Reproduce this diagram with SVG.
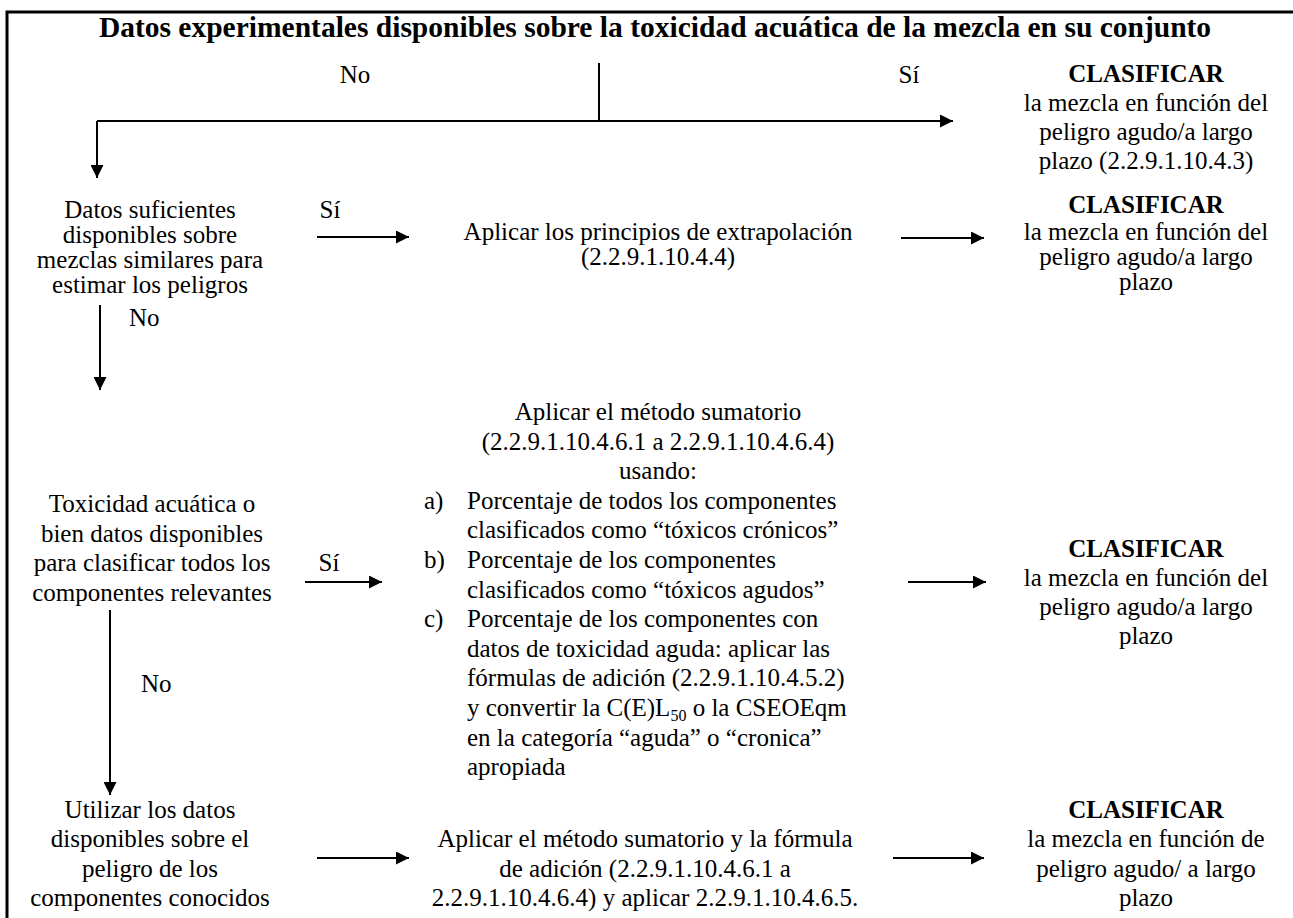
<svg xmlns="http://www.w3.org/2000/svg" width="1293" height="918" viewBox="0 0 1293 918">
<defs>
<style>
text{font-family:"Liberation Serif","Times New Roman",serif;font-size:25px;fill:#000}
.c{text-anchor:middle}
.b{font-weight:bold}
.t{font-weight:bold;font-size:29.5px}
.ln{stroke:#000;stroke-width:2;fill:none}
.bd{stroke:#000;stroke-width:3;fill:none}
</style>
<marker id="ah" viewBox="0 0 10 10" refX="10" refY="5" markerWidth="7" markerHeight="6.5" orient="auto" markerUnits="strokeWidth">
<path d="M0,0 L10,5 L0,10 z" fill="#000"/>
</marker>
</defs>
<rect width="1293" height="918" fill="#fff"/>
<g id="frame">
<path class="bd" d="M7,918 V12 H1293"/>
</g>
<g id="title"><text class="t c" x="655" y="37">Datos experimentales disponibles sobre la toxicidad acuática de la mezcla en su conjunto</text></g>
<g id="connectors">
<path class="ln" d="M599,63 V121"/>
<path class="ln" d="M97,121 H953" marker-end="url(#ah)"/>
<path class="ln" d="M97,121 V178" marker-end="url(#ah)"/>
<path class="ln" d="M317,237 H409" marker-end="url(#ah)"/>
<path class="ln" d="M901,238 H984" marker-end="url(#ah)"/>
<path class="ln" d="M100,305 V390" marker-end="url(#ah)"/>
<path class="ln" d="M305,582 H382" marker-end="url(#ah)"/>
<path class="ln" d="M908,582 H986" marker-end="url(#ah)"/>
<path class="ln" d="M110,610 V795" marker-end="url(#ah)"/>
<path class="ln" d="M317,858 H409" marker-end="url(#ah)"/>
<path class="ln" d="M893,858 H984" marker-end="url(#ah)"/>
</g>
<g id="labels">
<text class="c" x="355" y="83">No</text>
<text class="c" x="909" y="83">Sí</text>
<text class="c" x="330" y="218">Sí</text>
<text x="129" y="326">No</text>
<text class="c" x="329" y="571">Sí</text>
<text x="141" y="692">No</text>
</g>
<g id="n-clasificar-1">
<text class="c b" x="1146" y="82">CLASIFICAR</text>
<text class="c" x="1146" y="111">la mezcla en función del</text>
<text class="c" x="1146" y="140">peligro agudo/a largo</text>
<text class="c" x="1146" y="169">plazo (2.2.9.1.10.4.3)</text>
</g>
<g id="n-similares">
<text class="c" x="150" y="218">Datos suficientes</text>
<text class="c" x="150" y="243">disponibles sobre</text>
<text class="c" x="150" y="268">mezclas similares para</text>
<text class="c" x="150" y="293">estimar los peligros</text>
</g>
<g id="n-extrapolacion">
<text class="c" x="658" y="240">Aplicar los principios de extrapolación</text>
<text class="c" x="658" y="265">(2.2.9.1.10.4.4)</text>
</g>
<g id="n-clasificar-2">
<text class="c b" x="1146" y="213">CLASIFICAR</text>
<text class="c" x="1146" y="240">la mezcla en función del</text>
<text class="c" x="1146" y="265">peligro agudo/a largo</text>
<text class="c" x="1146" y="290">plazo</text>
</g>
<g id="n-toxicidad">
<text class="c" x="152" y="512">Toxicidad acuática o</text>
<text class="c" x="152" y="541.5">bien datos disponibles</text>
<text class="c" x="152" y="571">para clasificar todos los</text>
<text class="c" x="152" y="600.5">componentes relevantes</text>
</g>
<g id="n-sumatorio">
<text class="c" x="658" y="420">Aplicar el método sumatorio</text>
<text class="c" x="658" y="449.6">(2.2.9.1.10.4.6.1 a 2.2.9.1.10.4.6.4)</text>
<text class="c" x="658" y="479.2">usando:</text>
<text x="424" y="508.8">a)</text>
<text x="467" y="508.8">Porcentaje de todos los componentes</text>
<text x="467" y="538.4">clasificados como “tóxicos crónicos”</text>
<text x="424" y="568">b)</text>
<text x="467" y="568">Porcentaje de los componentes</text>
<text x="467" y="597.6">clasificados como “tóxicos agudos”</text>
<text x="424" y="627.2">c)</text>
<text x="467" y="627.2">Porcentaje de los componentes con</text>
<text x="467" y="656.8">datos de toxicidad aguda: aplicar las</text>
<text x="467" y="686.4">fórmulas de adición (2.2.9.1.10.4.5.2)</text>
<text x="467" y="716">y convertir la C(E)L<tspan font-size="16" dy="5">50</tspan><tspan dy="-5"> o la CSEOEqm</tspan></text>
<text x="467" y="745.6">en la categoría “aguda” o “cronica”</text>
<text x="467" y="775.2">apropiada</text>
</g>
<g id="n-clasificar-3">
<text class="c b" x="1146" y="557">CLASIFICAR</text>
<text class="c" x="1146" y="586">la mezcla en función del</text>
<text class="c" x="1146" y="615">peligro agudo/a largo</text>
<text class="c" x="1146" y="644">plazo</text>
</g>
<g id="n-utilizar">
<text class="c" x="150" y="818">Utilizar los datos</text>
<text class="c" x="150" y="847">disponibles sobre el</text>
<text class="c" x="150" y="877">peligro de los</text>
<text class="c" x="150" y="906">componentes conocidos</text>
</g>
<g id="n-sumatorio-adicion">
<text class="c" x="645" y="847">Aplicar el método sumatorio y la fórmula</text>
<text class="c" x="645" y="877">de adición (2.2.9.1.10.4.6.1 a</text>
<text class="c" x="645" y="906">2.2.9.1.10.4.6.4) y aplicar 2.2.9.1.10.4.6.5.</text>
</g>
<g id="n-clasificar-4">
<text class="c b" x="1146" y="818">CLASIFICAR</text>
<text class="c" x="1146" y="847">la mezcla en función de</text>
<text class="c" x="1146" y="877">peligro agudo/ a largo</text>
<text class="c" x="1146" y="906">plazo</text>
</g>
</svg>
